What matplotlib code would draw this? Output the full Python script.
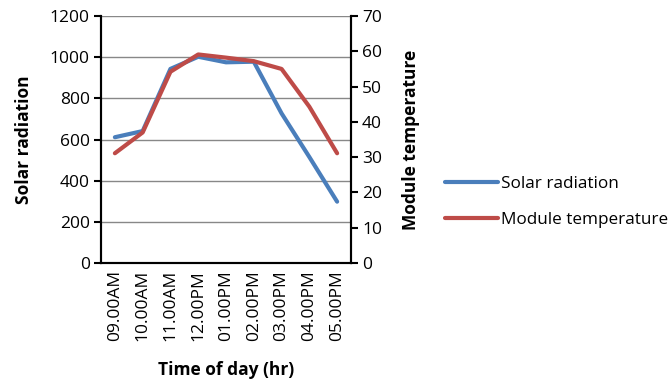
import matplotlib
matplotlib.use("Agg")
import matplotlib.pyplot as plt

times = ["09.00AM", "10.00AM", "11.00AM", "12.00PM", "01.00PM", "02.00PM", "03.00PM", "04.00PM", "05.00PM"]
solar_radiation = [611, 641, 943, 1002, 975, 978, 727, 515, 298]
module_temperature = [31.1, 37.0, 54.2, 59.1, 58.2, 57.2, 55.0, 44.3, 31.1]

plt.rcParams['font.family'] = ['Open Sans', 'DejaVu Sans']

fig = plt.figure(figsize=(6.71, 3.85), dpi=100)
ax = fig.add_axes([101/671, 1-263/385, 250/671, 247/385])
ax2 = ax.twinx()

x = list(range(len(times)))
l1, = ax.plot(x, solar_radiation, color="#4A7EBB", lw=3, label="Solar radiation", solid_capstyle="round")
l2, = ax2.plot(x, module_temperature, color="#BE4B48", lw=3, label="Module temperature", solid_capstyle="round")

ax.set_xlim(-0.5, 8.5)
ax.set_ylim(0, 1200)
ax.set_yticks(range(0, 1201, 200))
ax2.set_ylim(0, 70)
ax2.set_yticks(range(0, 71, 10))
ax.set_xticks(x)
ax.set_xticklabels(times, rotation=90)
ax.grid(axis='y', color="#888888", lw=1)
ax.set_axisbelow(True)
ax.tick_params(axis='x', length=0, labelsize=12.5, pad=5)
ax.tick_params(axis='y', direction='out', length=5, width=1.5, labelsize=12.5, pad=3)
ax2.tick_params(axis='y', direction='out', length=5, width=1.5, labelsize=12.5, pad=3)
for a in (ax, ax2):
    for s in a.spines.values():
        s.set_linewidth(1.5)
ax.spines['top'].set_visible(False)
ax2.spines['top'].set_visible(False)

ax.set_ylabel("Solar radiation", fontweight='bold', fontsize=12.5, labelpad=12)
ax2.set_ylabel("Module temperature", fontweight='bold', fontsize=12.5, labelpad=14)
ax.set_xlabel("Time of day (hr)", fontweight='bold', fontsize=12.5, labelpad=14)

fig.legend(handles=[l1, l2], loc='upper left', bbox_to_anchor=(445/671, 1-176/385),
           frameon=False, fontsize=12.3, handlelength=3.1, handletextpad=0.15, labelspacing=1.15,
           borderpad=0, borderaxespad=0)

fig.savefig("out.png", dpi=100)
